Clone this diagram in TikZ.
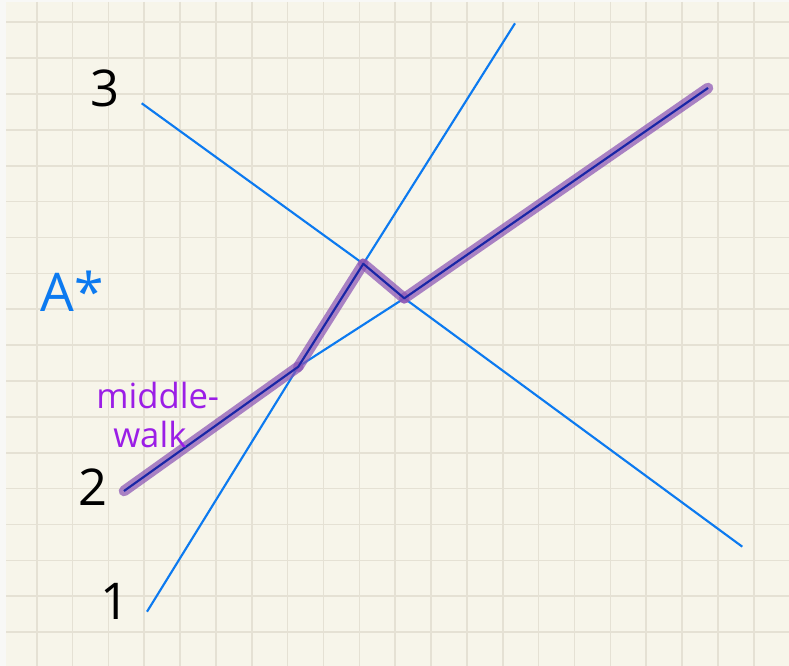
\documentclass[tikz,border=0pt]{standalone}
\usepackage{fontspec}
\newfontfamily\handfont{Open Sans}
\definecolor{paper}{RGB}{247,245,234}
\definecolor{edgewhite}{RGB}{248,248,246}
\definecolor{gridc}{RGB}{229,225,212}
\definecolor{lineblue}{RGB}{12,122,240}
\definecolor{hilite}{RGB}{140,85,180}
\definecolor{corec}{RGB}{25,38,165}
\definecolor{textpurple}{RGB}{155,30,230}
\begin{document}
\begin{tikzpicture}[x=0.75pt,y=-0.75pt,
  gridline/.style={draw=gridc,line width=1.2pt},
  blueline/.style={draw=lineblue,line width=1.6pt},
  hl/.style={draw=hilite,opacity=0.72,line width=8pt,line cap=round},
  core/.style={draw=corec,line width=1.5pt,line join=round},
  numlabel/.style={font=\handfont\fontsize{38}{40}\selectfont,text=black,inner sep=0pt},
  alabel/.style={font=\handfont\fontsize{40}{42}\selectfont,text=lineblue,inner sep=0pt},
  mlabel/.style={font=\handfont\fontsize{26}{24}\selectfont,text=textpurple,inner sep=0pt}]
\useasboundingbox (0,0) rectangle (789,666);
\fill[paper] (0,0) rectangle (789,666);
\fill[edgewhite] (0,0) rectangle (6,666);
\fill[edgewhite] (0,0) rectangle (789,2);
% grid
\foreach \k in {1,...,21} {\draw[gridline] ({0.85+35.85*\k},2) -- ({0.85+35.85*\k},666);}
\foreach \j in {0,...,17} {\draw[gridline] (6,{22.3+35.87*\j}) -- (789,{22.3+35.87*\j});}
% key points
\coordinate (s1) at (147,611.7);
\coordinate (e1) at (515,23.3);
\coordinate (s2) at (124,491);
\coordinate (e2) at (708,88);
\coordinate (s3) at (141.7,103.3);
\coordinate (e3) at (742.3,546.7);
\coordinate (p12) at (298.3,366.7);
\coordinate (p13) at (363.3,263.8);
\coordinate (p23) at (404.3,298.3);
% blue lines
\draw[blueline] (s1) -- (p12) -- (p13) -- (e1);
\draw[blueline] (s2) -- (p12) -- (p23) -- (e2);
\draw[blueline] (s3) -- (p13) -- (p23) -- (e3);
% middle-walk highlight
\draw[hl] (s2) -- (p12);
\draw[hl] (p12) -- (p13);
\draw[hl] (p13) -- (p23);
\draw[hl] (p23) -- (e2);
\draw[core] (s2) -- (p12) -- (p13) -- (p23) -- (e2);
% labels
\node[numlabel] (l3) at (105,88) {3};
\node[numlabel] (l2) at (93,487) {2};
\node[numlabel] (l1) at (115,601) {1};
\node[alabel] (astar) at (72,291) {A*};
\node[mlabel,anchor=base west] (mw1) at (96,409) {middle-};
\node[mlabel,anchor=base west] (mw2) at (113,447) {walk};
\end{tikzpicture}
\end{document}
